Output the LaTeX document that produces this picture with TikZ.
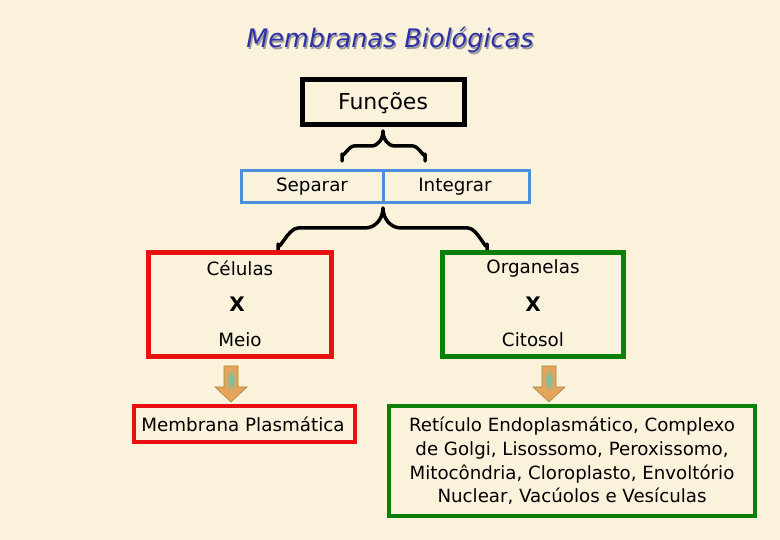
\documentclass[tikz,border=0pt]{standalone}
\usepackage{fontspec}
\setmainfont{DejaVu Sans}
\definecolor{bg}{HTML}{FBF2DC}
\definecolor{ttlblue}{HTML}{3030A8}
\definecolor{boxred}{HTML}{E81010}
\definecolor{boxgreen}{HTML}{0A800A}
\definecolor{boxblue}{HTML}{4A90DC}
\definecolor{arrorange}{HTML}{E6A45A}
\definecolor{arrteal}{HTML}{5CC8B0}
\definecolor{arredge}{HTML}{A08A40}
\tikzset{
  txt/.style={font=\fontsize{18.3}{22}\selectfont, text=black, inner sep=0pt},
  bracepath/.style={draw=black, line width=3.5pt, line cap=round, line join=round},
  blockarrow/.style={draw=arredge, line width=0.6pt, fill=arrorange},
  arrglow/.style={inner color=arrteal, outer color=arrorange}
}
\begin{document}
\begin{tikzpicture}[x=1pt,y=-1pt]
\useasboundingbox (0,0) rectangle (780,540);
\fill[bg] (0,0) rectangle (780,540);
% title
\node[font=\fontsize{25.5}{30}\selectfont\itshape, text=black!40, inner sep=0pt] (ttlshadow) at (391.5,41.5) {Membranas Biológicas};
\node[font=\fontsize{25.5}{30}\selectfont\itshape, text=ttlblue, inner sep=0pt] (ttl) at (390,40) {Membranas Biológicas};
% Funcoes box
\draw[line width=5pt] (302,80) rectangle (464,125);
\node[font=\fontsize{22}{26}\selectfont, inner sep=0pt] (func) at (383,103) {Funções};
% upper brace
\path[bracepath] (342,161) -- (342,154) to[out=-90,in=180] (354,146) -- (371,146) to[out=0,in=-90] (383,131) to[out=-90,in=180] (395,146) -- (413,146) to[out=0,in=-90] (425,154) -- (425,161);
% Separar / Integrar
\draw[boxblue, line width=3pt] (241,171) rectangle (529,203);
\draw[boxblue, line width=3pt] (383,171) -- (383,203);
\node[txt] (sep) at (312,187) {Separar};
\node[txt] (int) at (455,187) {Integrar};
% lower brace
\path[bracepath] (278,250) -- (278,244) to[out=-90,in=180] (298,228) -- (365,228) to[out=0,in=-90] (383,208) to[out=-90,in=180] (401,228) -- (468,228) to[out=0,in=-90] (487,244) -- (487,250);
% Celulas box
\draw[boxred, line width=5pt] (148,253) rectangle (331,357);
\node[txt] (cel) at (240,268) {Células};
\node[txt, font=\fontsize{20}{22}\selectfont\bfseries] (x1) at (237,304) {X};
\node[txt] (meio) at (240,340) {Meio};
% Organelas box
\draw[boxgreen, line width=5pt] (442,253) rectangle (623,357);
\node[txt] (org) at (533,268) {Organelas};
\node[txt, font=\fontsize{20}{22}\selectfont\bfseries] (x2) at (533,304) {X};
\node[txt] (cit) at (533,340) {Citosol};
% arrows
\path[blockarrow] (224,366) -- (238,366) -- (238,387) -- (247,387) -- (231,402) -- (215,387) -- (224,387) -- cycle;
\shade[arrglow] (231,380) ellipse (5.5 and 12);
\path[blockarrow] (542,366) -- (556,366) -- (556,387) -- (565,387) -- (549,402) -- (533,387) -- (542,387) -- cycle;
\shade[arrglow] (549,380) ellipse (5.5 and 12);
% bottom boxes
\draw[boxred, line width=4pt] (134,406) rectangle (355,442);
\node[txt] (mp) at (243,424) {Membrana Plasmática};
\draw[boxgreen, line width=4.5pt] (389,406) rectangle (755,516);
\node[txt, align=center, font=\fontsize{18.2}{23.7}\selectfont] (org2) at (572,461) {Retículo Endoplasmático, Complexo\\de Golgi, Lisossomo, Peroxissomo,\\Mitocôndria, Cloroplasto, Envoltório\\Nuclear, Vacúolos e Vesículas};
\end{tikzpicture}
\end{document}
